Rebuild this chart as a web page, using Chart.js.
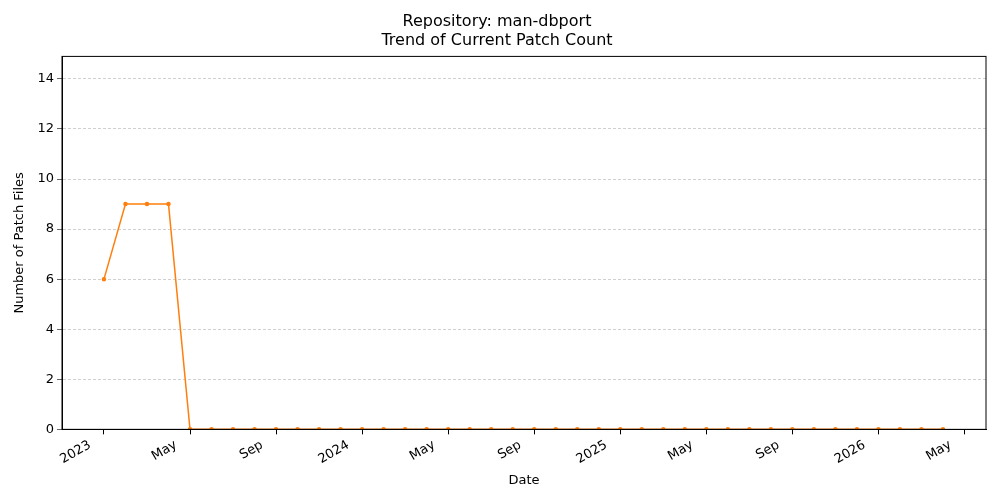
<!DOCTYPE html>
<html><head><meta charset="utf-8">
<script src="https://cdn.jsdelivr.net/npm/chart.js@4"></script>
<style>html,body{margin:0;padding:0;background:#fff}#w{width:1000px;height:500px}</style>
</head><body><div id="w"><canvas id="c"></canvas></div>
<script>
const months = ["2023-01","2023-02","2023-03","2023-04","2023-05","2023-06","2023-07","2023-08","2023-09","2023-10","2023-11","2023-12",
"2024-01","2024-02","2024-03","2024-04","2024-05","2024-06","2024-07","2024-08","2024-09","2024-10","2024-11","2024-12",
"2025-01","2025-02","2025-03","2025-04","2025-05","2025-06","2025-07","2025-08","2025-09","2025-10","2025-11","2025-12",
"2026-01","2026-02","2026-03","2026-04"];
const patchCounts = [6,9,9,9,0,0,0,0,0,0,0,0,0,0,0,0,0,0,0,0,0,0,0,0,0,0,0,0,0,0,0,0,0,0,0,0,0,0,0,0];
const tickPositions = [0,4,8,12,16,20,24,28,32,36,40];
const tickLabels = ["2023","May","Sep","2024","May","Sep","2025","May","Sep","2026","May"];
const yTicks = [0,2,4,6,8,10,12,14];
const pts = months.map((m,i)=>({x:i,y:patchCounts[i]}));
const font = {family:"DejaVu Sans", size:13};
const frame = {id:'frame',afterDraw(c){const a=c.chartArea,x=c.ctx;x.save();x.strokeStyle='#000';x.lineWidth=1;x.strokeRect(a.left,a.top,a.right-a.left,a.bottom-a.top);x.restore();}};
new Chart(document.getElementById('c'),{
  type:'line',
  data:{datasets:[{data:pts,borderColor:'#ff7f0e',backgroundColor:'#ff7f0e',borderWidth:1.5,pointRadius:1.5,pointHoverRadius:1.5,tension:0}]},
  plugins:[frame],
  options:{
    responsive:true,maintainAspectRatio:false,animation:false,
    layout:{padding:{left:8,right:14,top:12,bottom:8}},
    plugins:{legend:{display:false},tooltip:{enabled:false},
      title:{display:true,text:['Repository: man-dbport','Trend of Current Patch Count'],color:'#000',font:{family:"DejaVu Sans",size:16,weight:'normal'},padding:{top:0,bottom:6},lineHeight:1.2}},
    scales:{
      x:{type:'linear',min:-1.95,max:41.0,
        afterBuildTicks:a=>{a.ticks=tickPositions.map(v=>({value:v}));},
        ticks:{autoSkip:false,minRotation:30,maxRotation:30,color:'#000',font:font,labelOffset:-14,
          callback:(v)=>{const i=tickPositions.indexOf(v);return i>=0?tickLabels[i]:'';}},
        grid:{drawOnChartArea:false,drawTicks:true,tickLength:5,tickColor:'#000'},border:{color:'#000'},
        title:{display:true,text:'Date',color:'#000',font:font,padding:{top:2}}},
      y:{min:0,max:14.9,
        afterBuildTicks:a=>{a.ticks=yTicks.map(v=>({value:v}));},
        afterFit:a=>{a.width=54;},
        ticks:{color:'#000',font:font},
        grid:{color:'#b0b0b0',lineWidth:0.6,tickLength:5,tickColor:'#000'},
        border:{color:'#000',dash:[3,2]},
        title:{display:true,text:'Number of Patch Files',color:'#000',font:font}}
    }
  }
});
</script></body></html>
